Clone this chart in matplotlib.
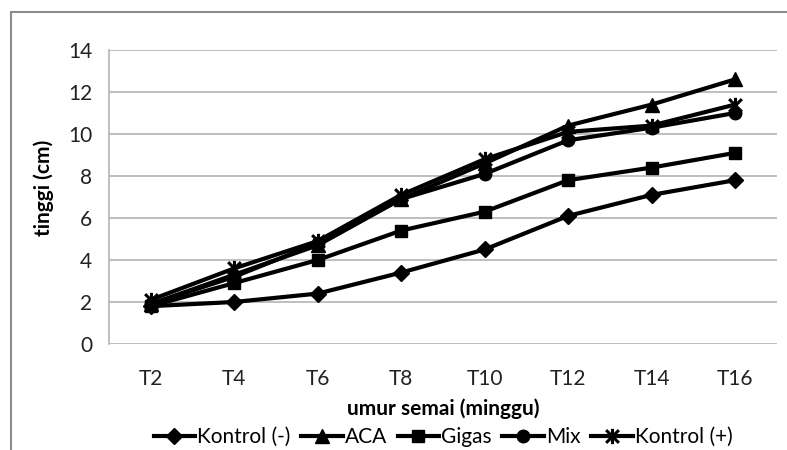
import matplotlib
matplotlib.use("Agg")
import matplotlib.pyplot as plt
from matplotlib.path import Path
from matplotlib.patches import Rectangle

plt.rcParams['font.family'] = ['Lato', 'DejaVu Sans']

minggu = ['T2', 'T4', 'T6', 'T8', 'T10', 'T12', 'T14', 'T16']
kontrol_min = [1.8, 2.0, 2.4, 3.4, 4.5, 6.1, 7.1, 7.8]
aca = [1.9, 3.3, 4.7, 6.9, 8.6, 10.4, 11.4, 12.6]
gigas = [1.8, 2.9, 4.0, 5.4, 6.3, 7.8, 8.4, 9.1]
mix = [1.9, 3.2, 4.8, 6.9, 8.1, 9.7, 10.3, 11.0]
kontrol_plus = [2.1, 3.6, 4.9, 7.1, 8.8, 10.1, 10.4, 11.4]

# asterisk marker (excel "star"): X plus vertical bar
star = Path([(-1, -1), (1, 1), (-1, 1), (1, -1), (0, -1.2), (0, 1.2)],
            [Path.MOVETO, Path.LINETO, Path.MOVETO, Path.LINETO, Path.MOVETO, Path.LINETO])

fig = plt.figure(figsize=(7.87, 4.5), dpi=100)
ax = fig.add_axes([0.1385, 0.2356, 0.8485, 0.6533])

x = range(len(minggu))
lw = 3
ax.plot(x, kontrol_min, color='black', lw=lw, marker='D', ms=8, label='Kontrol (-)')
ax.plot(x, aca, color='black', lw=lw, marker='^', ms=10, label='ACA')
ax.plot(x, gigas, color='black', lw=lw, marker='s', ms=9, label='Gigas')
ax.plot(x, mix, color='black', lw=lw, marker='o', ms=9, label='Mix')
ax.plot(x, kontrol_plus, color='black', lw=lw, marker=star, ms=11, mew=2.2, label='Kontrol (+)')

ax.set_xlim(-0.5, 7.5)
ax.set_ylim(0, 14)
ax.set_yticks(range(0, 15, 2))
ax.set_xticks(list(x))
ax.set_xticklabels(minggu)
ax.grid(True, axis='y', color='#b4b4b4', lw=1.2)
ax.set_axisbelow(True)
for s in ['top', 'right', 'bottom']:
    ax.spines[s].set_visible(False)
ax.spines['left'].set_color('#b4b4b4')
ax.spines['left'].set_linewidth(1.2)
ax.tick_params(length=0, labelsize=15, colors='#222222')
ax.tick_params(axis='x', pad=18)
ax.tick_params(axis='y', pad=12)

ax.set_xlabel('umur semai (minggu)', fontsize=15, fontweight='bold', labelpad=7)
ax.set_ylabel('tinggi (cm)', fontsize=15, fontweight='bold')
ax.yaxis.set_label_coords(-0.082, 0.53)

fig.legend(loc='center', bbox_to_anchor=(0.563, 0.029), ncol=5, frameon=False,
           fontsize=15, handlelength=2.0, handletextpad=0.1, columnspacing=0.5)

fig.patches.append(Rectangle((11 / 787, -0.5), 2, 0.9733 + 0.5, transform=fig.transFigure,
                             fill=False, edgecolor='#8c8c8c', lw=1.5))

fig.savefig('out.png', dpi=100)
